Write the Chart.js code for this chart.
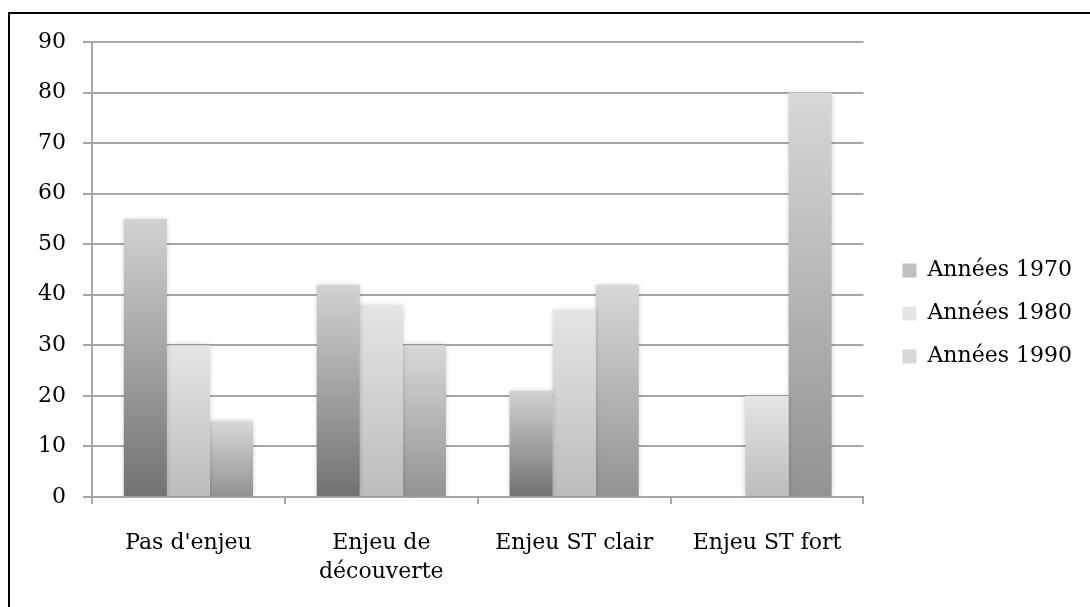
<!DOCTYPE html>
<html lang="fr">
<head>
<meta charset="utf-8">
<title>Enjeux par décennie</title>
<script src="https://cdn.jsdelivr.net/npm/chart.js@4/dist/chart.umd.min.js"></script>
<style>
  html, body { margin: 0; padding: 0; background: #fff; overflow: hidden; }
  #wrap { position: relative; width: 1090px; height: 607px; }
  #cadre {
    position: absolute; left: 8px; top: 12px; width: 1200px; height: 700px;
    border: 2px solid #000; pointer-events: none;
  }
</style>
</head>
<body>
<div id="wrap">
  <canvas id="enjeuChart" width="1090" height="607"></canvas>
  <div id="cadre"></div>
</div>
<script>
// Catégories et valeurs
const categories = ["Pas d'enjeu", ['Enjeu de', 'découverte'], 'Enjeu ST clair', 'Enjeu ST fort'];
const annees1970 = [55, 42, 21, 0];
const annees1980 = [30, 38, 37, 20];
const annees1990 = [15, 30, 42, 80];
const yTicks = [0, 10, 20, 30, 40, 50, 60, 70, 80, 90];

// Dégradés gris (haut, bas) pour chaque série
const teintes = [
  ['#d2d2d2', '#727272'],
  ['#e5e5e5', '#bcbcbc'],
  ['#d8d8d8', '#929292']
];

const grille = '#a6a6a6';
const police = "'DejaVu Serif', serif";
const decalageLegende = 18;

function degradeBarre(idx) {
  return (c) => {
    const chart = c.chart;
    if (c.type !== 'data' || !chart.chartArea) return teintes[idx][1];
    const y = chart.scales.y;
    const haut = y.getPixelForValue(c.raw);
    const bas = y.getPixelForValue(0);
    if (bas - haut < 1) return teintes[idx][1];
    const g = chart.ctx.createLinearGradient(0, haut, 0, bas);
    g.addColorStop(0, teintes[idx][0]);
    g.addColorStop(1, teintes[idx][1]);
    return g;
  };
}

// Ombre douce autour des barres
const ombre = {
  id: 'ombre',
  beforeDatasetsDraw(chart) {
    const ctx = chart.ctx;
    ctx.save();
    ctx.shadowColor = 'rgba(0,0,0,0.22)';
    ctx.shadowBlur = 5;
  },
  afterDatasetsDraw(chart) {
    chart.ctx.restore();
  }
};

// Pousse la légende un peu vers la droite sans toucher la zone du graphique
const placeLegende = {
  id: 'placeLegende',
  afterLayout(chart) {
    const lg = chart.legend;
    if (!lg) return;
    lg.left += decalageLegende;
    lg.right += decalageLegende;
    lg.adjustHitBoxes();
  }
};

// Carrés de légende en dégradé
const legendeDegrade = {
  id: 'legendeDegrade',
  afterDraw(chart) {
    const lg = chart.legend;
    if (!lg || !lg.legendHitBoxes) return;
    const ctx = chart.ctx;
    const bw = lg.options.labels.boxWidth;
    const bh = lg.options.labels.boxHeight;
    const fs = lg.options.labels.font.size;
    lg.legendHitBoxes.forEach((hb, i) => {
      const x = hb.left;
      const yTop = hb.top + (fs - bh) / 2 + 1;
      const g = ctx.createLinearGradient(0, yTop, 0, yTop + bh);
      g.addColorStop(0, teintes[i][0]);
      g.addColorStop(1, teintes[i][1]);
      ctx.save();
      ctx.fillStyle = '#fff';
      ctx.fillRect(x - 1, yTop - 1, bw + 2, bh + 2);
      ctx.fillStyle = g;
      ctx.fillRect(x, yTop, bw, bh);
      ctx.restore();
    });
  }
};

const ctx = document.getElementById('enjeuChart').getContext('2d');

new Chart(ctx, {
  type: 'bar',
  data: {
    labels: categories,
    datasets: [
      { label: 'Années 1970', data: annees1970, backgroundColor: degradeBarre(0) },
      { label: 'Années 1980', data: annees1980, backgroundColor: degradeBarre(1) },
      { label: 'Années 1990', data: annees1990, backgroundColor: degradeBarre(2) }
    ]
  },
  options: {
    responsive: false,
    animation: false,
    layout: { padding: { top: 42, right: 26, bottom: 22, left: 0 } },
    datasets: {
      bar: { categoryPercentage: 0.67, barPercentage: 1.0, borderWidth: 0 }
    },
    plugins: {
      tooltip: { enabled: false },
      legend: {
        position: 'right',
        labels: {
          color: '#000',
          font: { family: police, size: 22 },
          boxWidth: 14,
          boxHeight: 14,
          padding: 21
        }
      }
    },
    scales: {
      x: {
        offset: true,
        grid: {
          offset: true,
          drawOnChartArea: false,
          drawTicks: true,
          tickLength: 7,
          color: grille,
          lineWidth: 2
        },
        border: { color: grille, width: 2 },
        ticks: {
          color: '#000',
          font: { family: police, size: 22, lineHeight: 1.35 },
          padding: 24,
          maxRotation: 0
        },
        afterFit(axis) { axis.height = 88; }
      },
      y: {
        min: 0,
        max: 90,
        afterBuildTicks(axis) { axis.ticks = yTicks.map(v => ({ value: v })); },
        grid: { color: grille, lineWidth: 2, tickLength: 9 },
        border: { color: grille, width: 2 },
        ticks: {
          color: '#000',
          font: { family: police, size: 22 },
          padding: 17
        },
        afterFit(axis) { axis.width = 92; }
      }
    }
  },
  plugins: [ombre, placeLegende, legendeDegrade]
});
</script>
</body>
</html>
